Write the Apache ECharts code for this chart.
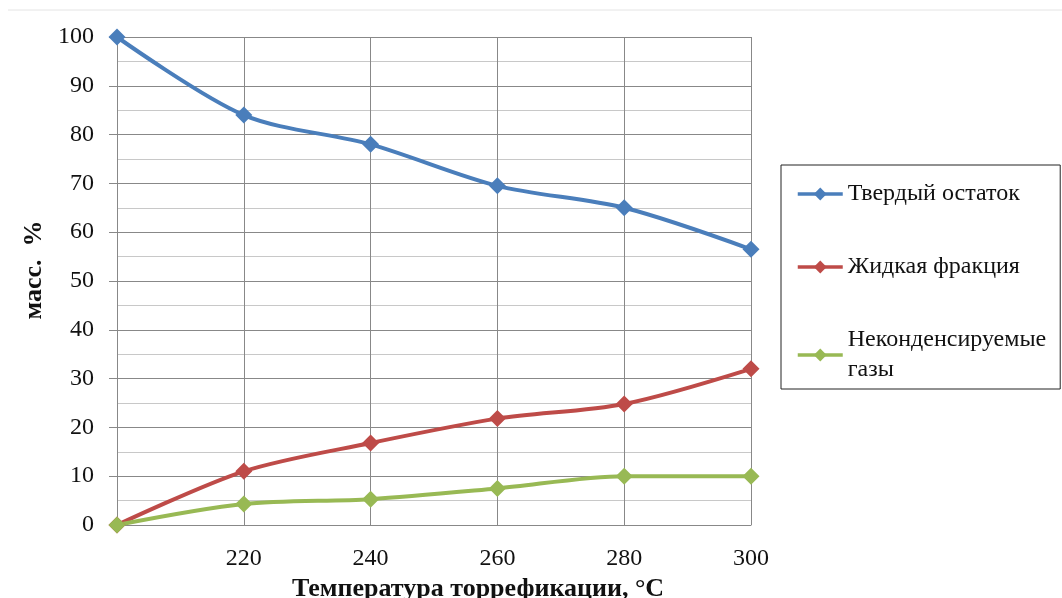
<!DOCTYPE html>
<html><head><meta charset="utf-8">
<script src="https://cdn.jsdelivr.net/npm/echarts@6/dist/echarts.min.js"></script>
<style>html,body{margin:0;padding:0;background:#fff}#c{width:1062px;height:598px}</style>
</head><body><div id="c"></div>
<script>
const categories = ['', '220', '240', '260', '280', '300'];
const solidResidue = [100, 84, 78, 69.5, 65, 56.5];
const liquidFraction = [0, 11, 16.8, 21.8, 24.8, 32];
const nonCondGases = [0, 4.3, 5.3, 7.5, 10, 10];
const seriesNames = ['Твердый остаток', 'Жидкая фракция', 'Неконденсируемые газы'];
const colors = ['#4a7ebb', '#be4b48', '#98b954'];

const font = '"Liberation Serif", "Times New Roman", serif';
const chart = echarts.init(document.getElementById('c'), null, {renderer: 'canvas'});
function mk(name, data, color) {
  return {
    name, type: 'line', data, smooth: 0.3,
    symbol: 'diamond', symbolSize: 17,
    lineStyle: {width: 4, color},
    itemStyle: {color},
    emphasis: {disabled: true}
  };
}
chart.setOption({
  animation: false,
  textStyle: {fontFamily: font},
  grid: {left: 117, right: 311, top: 37, bottom: 73, outerBoundsMode: 'none', containLabel: false},
  graphic: [{type: 'line', shape: {x1: 8, y1: 10, x2: 1062, y2: 10}, style: {stroke: '#e4e4e4', lineWidth: 1}}],
  legend: {
    orient: 'vertical', left: 781, top: 165,
    padding: [14, 14, 4, 15], itemGap: 43,
    borderColor: '#222', borderWidth: 1,
    itemWidth: 45, itemHeight: 16,
    lineStyle: {width: 3.5},
    data: seriesNames,
    formatter: n => n === 'Неконденсируемые газы' ? 'Неконденсируемые\nгазы' : n,
    textStyle: {fontFamily: font, fontSize: 24, color: '#111', lineHeight: 30}
  },
  xAxis: {
    type: 'category', data: categories, boundaryGap: false,
    name: 'Температура торрефикации, °С', nameLocation: 'middle', nameGap: 49,
    nameTextStyle: {fontFamily: font, fontSize: 26, fontWeight: 'bold', color: '#111', padding: [0, 0, 0, 88]},
    axisLine: {lineStyle: {color: '#888', width: 1}},
    axisTick: {show: false},
    axisLabel: {fontFamily: font, fontSize: 24, color: '#111', margin: 22},
    splitLine: {show: true, lineStyle: {color: '#888', width: 1}}
  },
  yAxis: {
    type: 'value', min: 0, max: 100, interval: 10,
    name: 'масс.  %', nameLocation: 'middle', nameGap: 66, nameRotate: 90,
    nameTextStyle: {fontFamily: font, fontSize: 26, fontWeight: 'bold', color: '#111', padding: [0, 0, 0, 22]},
    axisLine: {show: true, lineStyle: {color: '#888', width: 1}},
    axisTick: {show: true, length: 8, lineStyle: {color: '#888'}},
    axisLabel: {fontFamily: font, fontSize: 24, color: '#111', margin: 23},
    splitLine: {show: true, lineStyle: {color: '#888', width: 1}},
    minorTick: {show: false, splitNumber: 2},
    minorSplitLine: {show: true, lineStyle: {color: '#c8c8c8', width: 1}}
  },
  series: [
    mk(seriesNames[0], solidResidue, colors[0]),
    mk(seriesNames[1], liquidFraction, colors[1]),
    mk(seriesNames[2], nonCondGases, colors[2])
  ]
});
</script></body></html>
